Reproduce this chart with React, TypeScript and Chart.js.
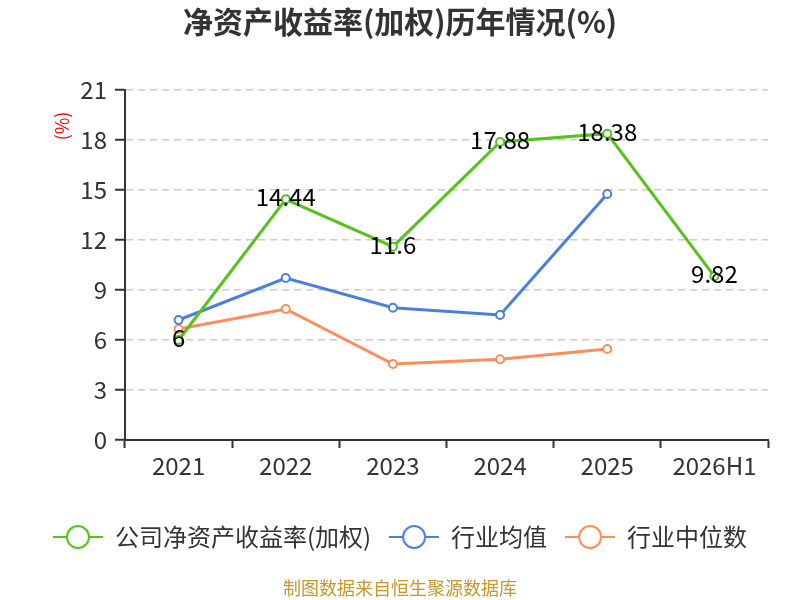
import { useEffect, useRef } from 'react'
import Chart from 'chart.js/auto'

const FONT = '"Noto Sans CJK SC", "Noto Sans", sans-serif'

const years = ['2021', '2022', '2023', '2024', '2025', '2026H1']
const companyRoe = [6, 14.44, 11.6, 17.88, 18.38, 9.82]
const industryAvg = [7.2, 9.72, 7.94, 7.5, 14.76, null]
const industryMedian = [6.66, 7.86, 4.56, 4.84, 5.46, null]
const yTicks = [0, 3, 6, 9, 12, 15, 18, 21]

const GREEN = '#52c41a'
const BLUE = '#4a7fe0'
const ORANGE = '#ff8c5a'

// legend icon: short line with a hollow circle in the middle
function legendIcon(color: string) {
  const c = document.createElement('canvas')
  c.width = 50
  c.height = 26
  const ctx = c.getContext('2d')!
  ctx.strokeStyle = color
  ctx.lineWidth = 2
  ctx.beginPath()
  ctx.moveTo(0, 13)
  ctx.lineTo(50, 13)
  ctx.stroke()
  ctx.beginPath()
  ctx.arc(25, 13, 11, 0, Math.PI * 2)
  ctx.fillStyle = '#fff'
  ctx.fill()
  ctx.stroke()
  return c
}

const extrasPlugin = {
  id: 'extras',
  afterDatasetsDraw(chart: any) {
    const { ctx } = chart
    ctx.save()
    // value labels on the company series
    const meta = chart.getDatasetMeta(0)
    ctx.fillStyle = '#000'
    ctx.font = `24px ${FONT}`
    ctx.textAlign = 'center'
    ctx.textBaseline = 'middle'
    meta.data.forEach((pt: any, i: number) => {
      ctx.fillText(String(companyRoe[i]), pt.x, pt.y - 2)
    })
    ctx.restore()
  },
  afterDraw(chart: any) {
    const { ctx } = chart
    ctx.save()
    // unit title on y axis
    ctx.translate(62, 126)
    ctx.rotate(-Math.PI / 2)
    ctx.fillStyle = '#ff0000'
    ctx.font = `18px ${FONT}`
    ctx.textAlign = 'center'
    ctx.textBaseline = 'middle'
    ctx.fillText('(%)', 0, 0)
    ctx.restore()
    // source note
    ctx.save()
    ctx.fillStyle = '#c8962a'
    ctx.font = `18px ${FONT}`
    ctx.textAlign = 'center'
    ctx.textBaseline = 'middle'
    ctx.fillText('制图数据来自恒生聚源数据库', 400, 588)
    ctx.restore()
  },
}

export default function App() {
  const canvasRef = useRef<HTMLCanvasElement>(null)

  useEffect(() => {
    if (!canvasRef.current) return
    const icons = [legendIcon(GREEN), legendIcon(BLUE), legendIcon(ORANGE)]
    const names = ['公司净资产收益率(加权)', '行业均值', '行业中位数']

    const lineStyle = (color: string) => ({
      borderColor: color,
      backgroundColor: '#fff',
      borderWidth: 3,
      pointRadius: 4,
      pointBorderWidth: 2,
      pointBackgroundColor: '#fff',
      pointBorderColor: color,
      tension: 0,
      spanGaps: false,
    })

    const chart = new Chart(canvasRef.current, {
      type: 'line',
      data: {
        labels: years,
        datasets: [
          { label: names[0], data: companyRoe, ...lineStyle(GREEN), order: 0 },
          { label: names[1], data: industryAvg, ...lineStyle(BLUE), order: 1 },
          { label: names[2], data: industryMedian, ...lineStyle(ORANGE), order: 2 },
        ],
      },
      options: {
        responsive: false,
        animation: false,
        layout: { padding: { left: 32, right: 32, top: 0, bottom: 41 } },
        plugins: {
          title: {
            display: true,
            text: '净资产收益率(加权)历年情况(%)',
            color: '#333',
            font: { family: FONT, size: 30, weight: 'bold' },
            padding: { top: 4, bottom: 50 },
          },
          legend: {
            position: 'bottom',
            labels: {
              usePointStyle: true,
              pointStyleWidth: 50,
              padding: 18,
              color: '#333',
              font: { family: FONT, size: 24 },
              generateLabels: () =>
                names.map((n, i) => ({
                  text: n,
                  pointStyle: icons[i],
                  fillStyle: '#fff',
                  strokeStyle: 'transparent',
                  lineWidth: 0,
                  hidden: false,
                  datasetIndex: i,
                  fontColor: '#333',
                })),
            },
          },
          tooltip: { enabled: false },
        },
        scales: {
          x: {
            offset: true,
            grid: {
              offset: true,
              drawOnChartArea: false,
              drawTicks: true,
              tickLength: 8,
              tickColor: '#333',
              tickWidth: 2,
            },
            border: { color: '#333', width: 2 },
            ticks: {
              color: '#333',
              padding: 3,
              font: { family: FONT, size: 24 },
            },
            afterFit: (scale: any) => {
              scale.height = 67
            },
          },
          y: {
            min: 0,
            max: 21,
            afterBuildTicks: (scale: any) => {
              scale.ticks = yTicks.map(v => ({ value: v }))
            },
            grid: {
              color: '#cccccc',
              lineWidth: 1.5,
              tickLength: 10,
              tickColor: '#333',
              tickWidth: 2,
            },
            border: { color: '#333', width: 2, dash: [7, 5] },
            ticks: {
              color: '#333',
              padding: 8,
              font: { family: FONT, size: 24 },
            },
            afterFit: (scale: any) => {
              scale.width = 93
            },
          },
        },
      },
      plugins: [extrasPlugin],
    })

    return () => chart.destroy()
  }, [])

  return (
    <div style={{ position: 'fixed', left: 0, top: 0, width: 800, height: 600, background: '#fff' }}>
      <canvas ref={canvasRef} width={800} height={600} />
    </div>
  )
}
